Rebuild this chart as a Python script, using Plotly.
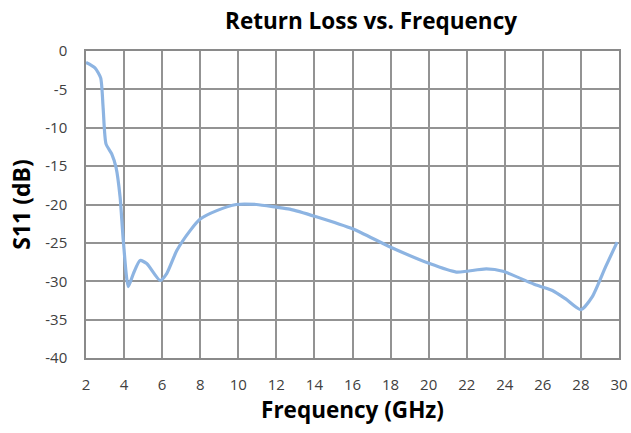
import plotly.graph_objects as go

freq_ghz = [2.0, 2.47, 2.77, 2.9, 3.05, 3.35, 3.58, 3.79, 3.96, 4.22, 4.49, 4.84, 5.19, 5.89,
            6.24, 6.77, 7.47, 8.0, 8.87, 9.9, 10.95, 12.0, 12.7, 14.1, 16.03, 17.95, 20.05,
            21.45, 22.0, 23.03, 23.9, 25.65, 26.5, 27.2, 28.0, 28.6, 29.3, 29.9]
s11_db = [-1.5, -2.2, -3.5, -7.4, -12.1, -13.4, -15.2, -19.0, -24.7, -30.7, -29.0, -27.3, -27.7, -29.9,
          -29.0, -26.0, -23.4, -21.9, -20.8, -20.0, -20.0, -20.35, -20.6, -21.6, -23.2, -25.5, -27.7,
          -28.8, -28.7, -28.4, -28.7, -30.5, -31.2, -32.3, -33.7, -32.0, -28.1, -24.9]

x_ticks = list(range(2, 31, 2))
y_ticks = list(range(-40, 1, 5))

fig = go.Figure()
fig.add_trace(go.Scatter(
    x=freq_ghz, y=s11_db, mode="lines",
    line=dict(color="#8db4e2", width=3.2, shape="spline", smoothing=0.6),
    showlegend=False, hoverinfo="skip"))

fig.update_layout(
    width=631, height=433,
    margin=dict(l=86, r=12, t=51, b=75, autoexpand=False),
    paper_bgcolor="white", plot_bgcolor="white",
    title=dict(text="<b>Return Loss vs. Frequency</b>", x=0.588, xanchor="center",
               xref="container", y=0.952, yanchor="middle",
               font=dict(family="Open Sans", size=22.5, color="black")),
    font=dict(family="Open Sans", color="#404040"),
)
fig.update_xaxes(
    range=[2, 30], tickvals=x_ticks, ticktext=[str(t) for t in x_ticks],
    showgrid=True, gridcolor="#939393", gridwidth=1.5,
    showline=True, linecolor="#8a8a8a", linewidth=1.5, mirror=True,
    zeroline=False, ticks="", ticklabelstandoff=12, automargin=False,
    tickfont=dict(size=15, color="#404040"),
    title=dict(text="<b>Frequency (GHz)</b>", font=dict(size=22.5, color="black"), standoff=6),
)
fig.update_yaxes(
    range=[-40, 0], tickvals=y_ticks, ticktext=[str(t) for t in y_ticks],
    showgrid=True, gridcolor="#939393", gridwidth=1.5,
    showline=True, linecolor="#8a8a8a", linewidth=1.5, mirror=True,
    zeroline=False, ticks="", ticklabelstandoff=14, automargin=False,
    tickfont=dict(size=15, color="#404040"),
    title=dict(text="<b>S11 (dB)</b>", font=dict(size=23, color="black"), standoff=8),
)

fig.write_html("out.html", config={"displayModeBar": False},
               post_script="document.body.style.margin='0';document.body.style.overflow='hidden';")
